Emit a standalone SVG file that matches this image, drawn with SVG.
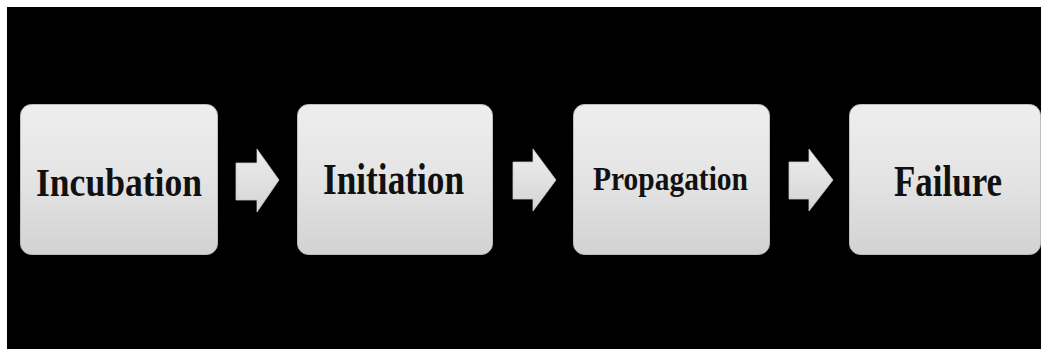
<svg xmlns="http://www.w3.org/2000/svg" width="1041" height="349" viewBox="0 0 1041 349">
  <defs>
    <linearGradient id="boxGrad" x1="0" y1="0" x2="0" y2="1">
      <stop offset="0" stop-color="#eeeeee"/>
      <stop offset="0.5" stop-color="#e4e4e4"/>
      <stop offset="1" stop-color="#d2d2d2"/>
    </linearGradient>
    <linearGradient id="arrowGrad" x1="0" y1="0" x2="0" y2="1">
      <stop offset="0" stop-color="#eeeeee"/>
      <stop offset="1" stop-color="#d4d4d4"/>
    </linearGradient>
  </defs>
  <style>
    .box { fill: url(#boxGrad); stroke: #bdbdbd; stroke-width: 1; }
    .arrow { fill: url(#arrowGrad); stroke: #c8c8c8; stroke-width: 0.8; }
    .label { font-family: "Liberation Serif", "Times New Roman", serif; font-weight: bold; fill: #111111; text-anchor: start; }
  </style>
  <rect x="0" y="0" width="1041" height="349" fill="#ffffff"/>
  <rect x="7" y="7" width="1034" height="342" fill="#000000"/>

  <g id="node-incubation">
    <rect class="box" x="20.5" y="104.5" width="197" height="150" rx="11"/>
    <text class="label" x="36" y="196" font-size="40" textLength="166" lengthAdjust="spacingAndGlyphs">Incubation</text>
  </g>
  <g id="node-initiation">
    <rect class="box" x="297.5" y="104.5" width="195" height="150" rx="11"/>
    <text class="label" x="323" y="194" font-size="45" textLength="141" lengthAdjust="spacingAndGlyphs">Initiation</text>
  </g>
  <g id="node-propagation">
    <rect class="box" x="573.5" y="104.5" width="196" height="150" rx="11"/>
    <text class="label" x="593" y="190" font-size="33" textLength="155" lengthAdjust="spacingAndGlyphs">Propagation</text>
  </g>
  <g id="node-failure">
    <rect class="box" x="849.5" y="104.5" width="191" height="150" rx="11"/>
    <text class="label" x="894" y="196" font-size="45" textLength="108" lengthAdjust="spacingAndGlyphs">Failure</text>
  </g>

  <g id="connectors">
    <polygon class="arrow" points="236,163 257,163 257,149 279,180 257,212 257,200 236,200"/>
    <polygon class="arrow" points="513,162 533,162 533,149 556,180 533,211 533,199 513,199"/>
    <polygon class="arrow" points="789,162 809,162 809,149 833,180 809,211 809,199 789,199"/>
  </g>
</svg>
